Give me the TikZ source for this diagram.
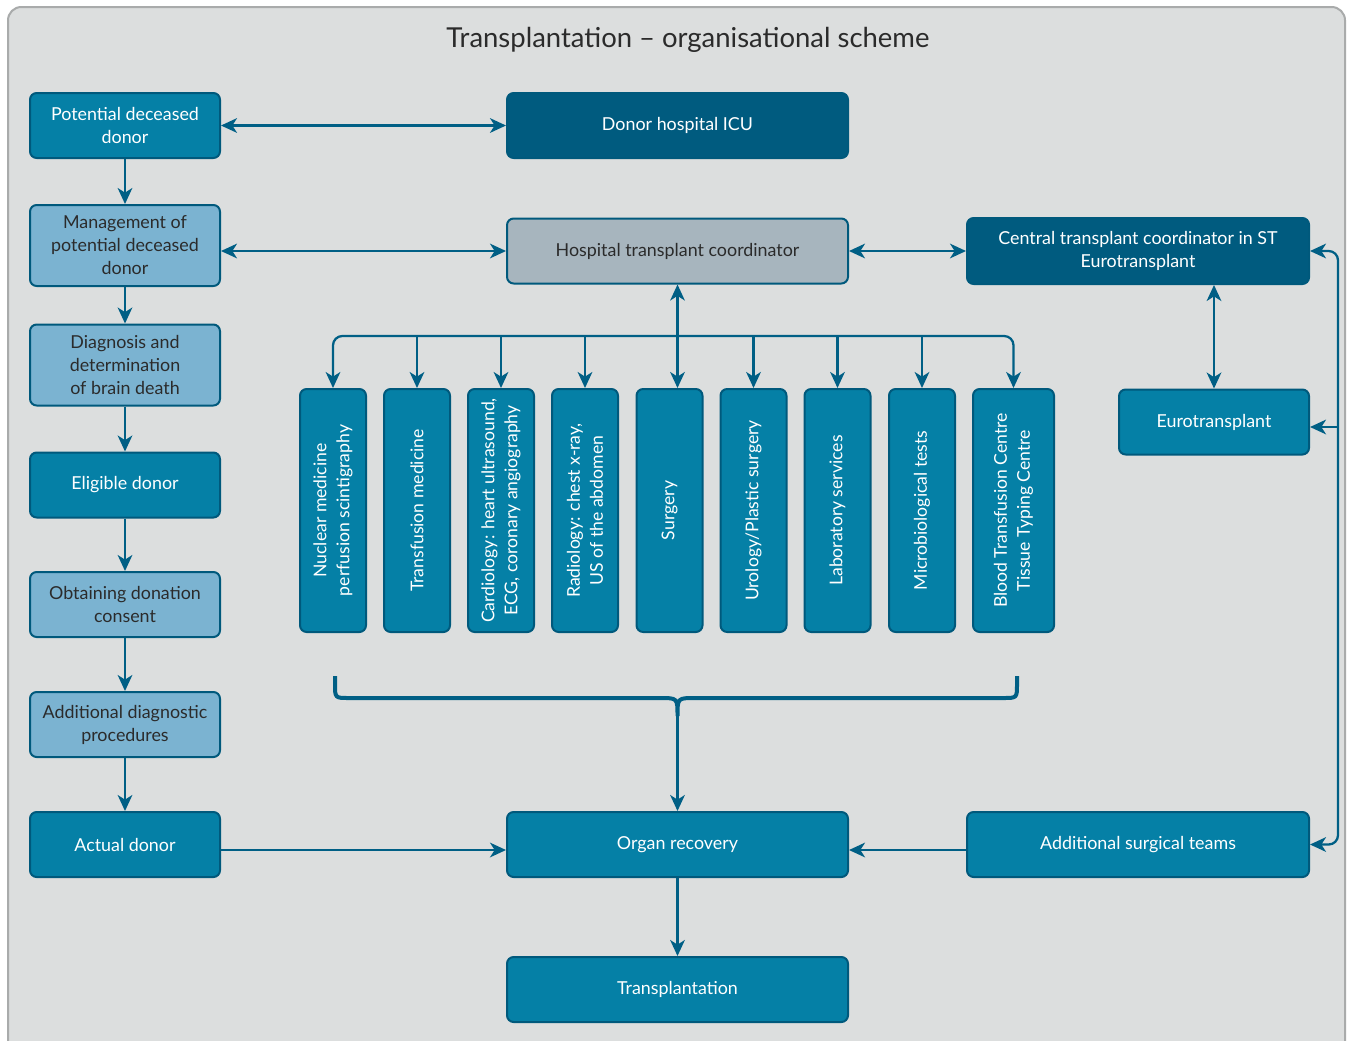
\documentclass[tikz,border=0pt]{standalone}
\usepackage{fontspec}
\setmainfont{Lato}
\usetikzlibrary{arrows.meta}
\definecolor{bgc}{HTML}{DCDEDE}
\definecolor{frm}{HTML}{A9ABAB}
\definecolor{midb}{HTML}{0580A6}
\definecolor{darkb}{HTML}{005B7F}
\definecolor{lightb}{HTML}{7BB3D1}
\definecolor{grayb}{HTML}{A7B5BE}
\definecolor{edgec}{HTML}{005F85}
\definecolor{bordc}{HTML}{00597C}
\definecolor{txtd}{HTML}{2B2B2B}
\begin{document}
\begin{tikzpicture}[x=0.75pt,y=-0.75pt,
  box/.style={draw=bordc, line width=1.5pt, rounded corners=5pt, align=center, inner sep=0pt,
    font=\fontsize{13.4pt}{17.25pt}\selectfont},
  bmid/.style={box, fill=midb, text=white},
  bdark/.style={box, fill=darkb, text=white},
  blight/.style={box, fill=lightb, text=txtd},
  bgray/.style={box, fill=grayb, text=txtd},
  lcol/.style={minimum width=142.5pt, minimum height=48.75pt},
  lcoltall/.style={minimum width=142.5pt, minimum height=60.75pt},
  mcol/.style={minimum width=255.75pt, minimum height=48.75pt},
  vbox/.style={bmid, minimum width=49.5pt, minimum height=182.25pt},
  vtext/.style={rotate=90, align=center, text=white, font=\fontsize{13.2pt}{17.25pt}\selectfont},
  arr/.style={draw=edgec, line width=1.7pt, arrows={-Stealth[length=12pt,width=11pt,inset=3.5pt]}},
  darr/.style={draw=edgec, line width=1.7pt, arrows={Stealth[length=12pt,width=11pt,inset=3.5pt]-Stealth[length=12pt,width=11pt,inset=3.5pt]}},
  bracestyle/.style={draw=edgec, line width=3pt}
]
\useasboundingbox (0,0) rectangle (1348,1040);
\clip (0,0) rectangle (1348,1040);
\fill[white] (0,0) rectangle (1348,1040);
\draw[frm, fill=bgc, line width=1.5pt, rounded corners=10pt] (8,7) rectangle (1345,1080);

\node (title) at (688,40) {\fontsize{20.6pt}{24pt}\selectfont\color{txtd}Transplantation – organisational scheme};

% left column
\node[bmid, lcol] (pdd) at (125,125.5) {Potential deceased\\donor};
\node[blight, lcoltall] (mgmt) at (125,245.5) {Management of\\potential deceased\\donor};
\node[blight, lcoltall] (diag) at (125,365) {Diagnosis and\\determination\\of brain death};
\node[bmid, lcol] (elig) at (125,485) {Eligible donor};
\node[blight, lcol] (obt) at (125,604.5) {Obtaining donation\\consent};
\node[blight, lcol] (add) at (125,724.5) {Additional diagnostic\\procedures};
\node[bmid, lcol] (act) at (125,844.5) {Actual donor};

% middle column
\node[bdark, mcol] (icu) at (677.5,125.5) {Donor hospital ICU};
\node[bgray, mcol] (hc) at (677.5,251) {Hospital transplant coordinator};
\node[bmid, mcol] (or) at (677.5,844.5) {Organ recovery};
\node[bmid, mcol] (tr) at (677.5,989.5) {Transplantation};

% right column
\node[bdark, minimum width=256.5pt, minimum height=49.5pt] (ctc) at (1138,251) {Central transplant coordinator in ST\\Eurotransplant};
\node[bmid, lcol] (eu) at (1214,422) {Eurotransplant};
\node[bmid, minimum width=256.5pt, minimum height=48.75pt] (ast) at (1138,844.5) {Additional surgical teams};

% vertical boxes
\node[vbox] (v1) at (333,510.5) {};
\node[vtext] at (v1) {Nuclear medicine\\perfusion scintigraphy};
\node[vbox] (v2) at (417,510.5) {};
\node[vtext] at (v2) {Transfusion medicine};
\node[vbox] (v3) at (501,510.5) {};
\node[vtext] at (v3) {Cardiology: heart ultrasound,\\ECG, coronary angiography};
\node[vbox] (v4) at (585,510.5) {};
\node[vtext] at (v4) {Radiology: chest x-ray,\\US of the abdomen};
\node[vbox] (v5) at (669.5,510.5) {};
\node[vtext] at (v5) {Surgery};
\node[vbox] (v6) at (753.5,510.5) {};
\node[vtext] at (v6) {Urology/Plastic surgery};
\node[vbox] (v7) at (837.5,510.5) {};
\node[vtext] at (v7) {Laboratory services};
\node[vbox] (v8) at (922,510.5) {};
\node[vtext] at (v8) {Microbiological tests};
\node[vbox, minimum width=60.75pt] (v9) at (1013.5,510.5) {};
\node[vtext] at (v9) {Blood Transfusion Centre\\Tissue Typing Centre};

% left column arrows
\draw[arr] (pdd) -- (mgmt);
\draw[arr] (mgmt) -- (diag);
\draw[arr] (diag) -- (elig);
\draw[arr] (elig) -- (obt);
\draw[arr] (obt) -- (add);
\draw[arr] (add) -- (act);

% horizontal double arrows
\draw[darr] (pdd.east) -- (icu.west);
\draw[darr] (mgmt.east |- hc.west) -- (hc.west);
\draw[darr] (hc.east) -- (ctc.west);
\draw[darr] (ctc.south -| eu.north) -- (eu.north);

% bus to departments
\coordinate (busy) at (0,336);
\draw[darr] (hc.south) -- (hc.south |- v5.north);
\draw[darr, rounded corners=7pt] (v1.north) -- (v1.north |- busy) -- (v9.north |- busy) -- (v9.north);
\foreach \v in {v2,v3,v4,v6,v7,v8}{
  \draw[arr] (\v.north |- busy) -- (\v.north);
}

% brace
\coordinate (bt) at (677.5,716);
\draw[bracestyle] (335,676) -- (335,684) .. controls (335,698) .. (349,698) -- (660,698)
  .. controls (677.5,698) .. (bt) .. controls (677.5,698) .. (695,698) -- (1003,698)
  .. controls (1017,698) .. (1017,684) -- (1017,676);
\draw[arr] (bt) -- (or.north);

% bottom arrows
\coordinate (boty) at (0,850);
\draw[arr] (act.east |- boty) -- (or.west |- boty);
\draw[arr] (ast.west |- boty) -- (or.east |- boty);
\draw[arr] (or) -- (tr);

% right side line
\coordinate (rx) at (1338,0);
\coordinate (euy) at (0,427);
\draw[darr, rounded corners=7pt] (ctc.east) -- (rx |- ctc.east) -- (rx |- ast.east) -- (ast.east);
\draw[arr] (rx |- euy) -- (eu.east |- euy);
\end{tikzpicture}
\end{document}
